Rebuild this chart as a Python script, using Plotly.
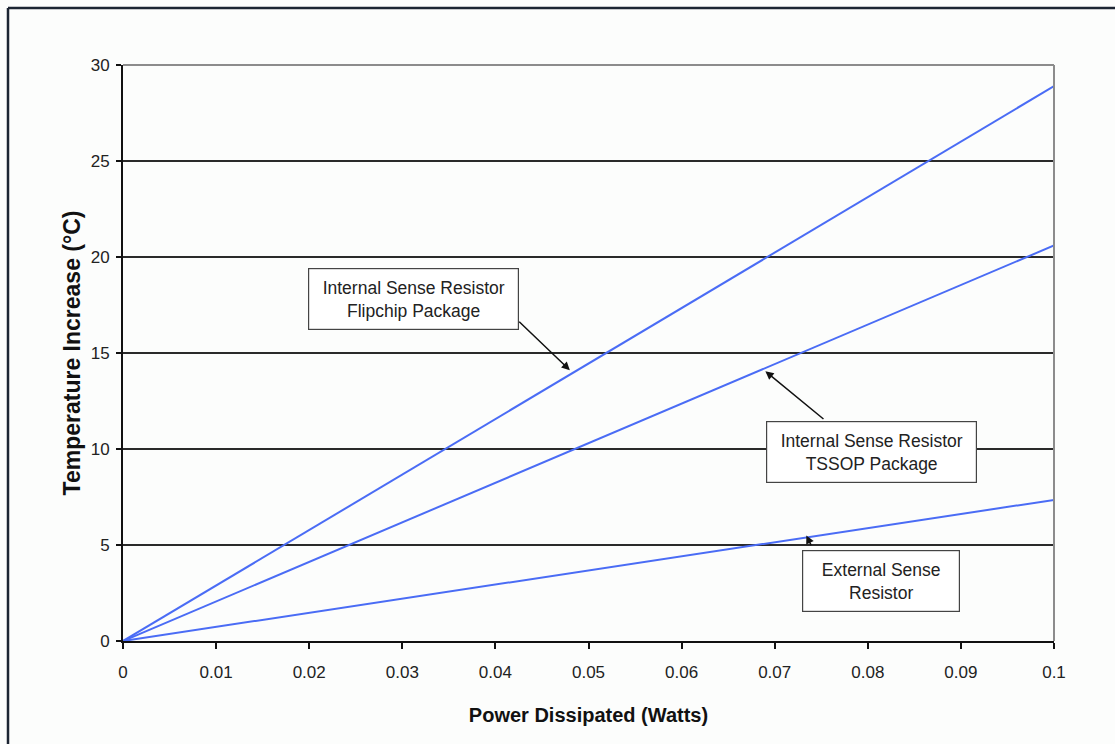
import plotly.graph_objects as go

# Data (linear temperature rise vs power)
power_w = [0.0, 0.1]
flipchip_c = [0.0, 28.9]
tssop_c = [0.0, 20.6]
external_c = [0.0, 7.35]

x_ticks = [0, 0.01, 0.02, 0.03, 0.04, 0.05, 0.06, 0.07, 0.08, 0.09, 0.1]
x_tick_text = ["0", "0.01", "0.02", "0.03", "0.04", "0.05", "0.06", "0.07", "0.08", "0.09", "0.1"]
y_ticks = [0, 5, 10, 15, 20, 25, 30]

label_texts = [
    "Internal Sense Resistor<br>Flipchip Package",
    "Internal Sense Resistor<br>TSSOP Package",
    "External Sense<br>Resistor",
]
label_pos = [(0.03115, 17.8), (0.0804, 9.85), (0.0814, 3.15)]
label_w = [205, 205, 152]
arrow_head = [(0.0480, 14.1), (0.0690, 14.05), (0.0734, 5.5)]
arrow_tail = [(0.0424, 16.7), (0.0754, 11.5), (0.0740, 4.9)]

line_color = "#4a6cf5"
font_main = "Liberation Sans, Arial, sans-serif"

fig = go.Figure()
for ys in (flipchip_c, tssop_c, external_c):
    fig.add_trace(go.Scatter(x=power_w, y=ys, mode="lines",
                             line=dict(color=line_color, width=2),
                             showlegend=False, hoverinfo="skip"))

annotations = []
for (hx, hy), (tx, ty) in zip(arrow_head, arrow_tail):
    annotations.append(dict(x=hx, y=hy, ax=tx, ay=ty, xref="x", yref="y",
                            axref="x", ayref="y", text="", showarrow=True,
                            arrowhead=2, arrowsize=1.1, arrowwidth=1.5,
                            arrowcolor="#111111", standoff=0, startstandoff=0))
for txt, (bx, by), w in zip(label_texts, label_pos, label_w):
    annotations.append(dict(x=bx, y=by, xref="x", yref="y", text=txt,
                            showarrow=False, width=w, height=56, align="center",
                            valign="middle", bgcolor="#ffffff",
                            bordercolor="#444444", borderwidth=1.2, borderpad=2,
                            font=dict(family=font_main, size=17.5, color="#222222")))

# paper-coordinate helpers for outer frame
L, R, T, B = 123, 61, 65, 103
W, H = 1115, 744
pw, ph = W - L - R, H - T - B
def px(xp):
    return (xp - L) / pw
def py(yp):
    return (H - B - yp) / ph

shapes = [
    # plot area top & right border (gray)
    dict(type="line", xref="paper", yref="paper", x0=0, x1=1, y0=1, y1=1,
         line=dict(color="#8c8c8c", width=2)),
    dict(type="line", xref="paper", yref="paper", x0=1, x1=1, y0=0, y1=1,
         line=dict(color="#8c8c8c", width=2)),
    # outer frame of the picture
    dict(type="line", xref="paper", yref="paper", x0=px(8), x1=px(1120), y0=py(8), y1=py(8),
         line=dict(color="#1c2533", width=2.5)),
    dict(type="line", xref="paper", yref="paper", x0=px(8), x1=px(8), y0=py(8), y1=py(750),
         line=dict(color="#1c2533", width=2.5)),
]

fig.update_layout(
    width=W, height=H,
    margin=dict(l=L, r=R, t=T, b=B, autoexpand=False),
    paper_bgcolor="#fcfdfc", plot_bgcolor="#fcfdfc",
    showlegend=False,
    annotations=annotations,
    shapes=shapes,
    font=dict(family=font_main, color="#222222"),
    xaxis=dict(range=[0, 0.1], tickmode="array", tickvals=x_ticks, ticktext=x_tick_text,
               showgrid=False, zeroline=False, showline=True, linecolor="#111111", linewidth=2,
               ticks="outside", ticklen=6, tickwidth=2, tickcolor="#111111",
               ticklabelstandoff=9,
               tickfont=dict(family=font_main, size=17, color="#222222"),
               title=dict(text="Power Dissipated (Watts)", standoff=27,
                          font=dict(family=font_main, size=20, color="#111111", weight="bold")),
               automargin=False),
    yaxis=dict(range=[0, 30], tickmode="array", tickvals=y_ticks,
               showgrid=True, gridcolor="#2a2a2a", gridwidth=1.5, zeroline=False,
               showline=True, linecolor="#111111", linewidth=2,
               ticks="outside", ticklen=5, tickwidth=2, tickcolor="#111111",
               ticklabelstandoff=3,
               tickfont=dict(family=font_main, size=17, color="#222222"),
               title=dict(text="Temperature Increase (°C)", standoff=4,
                          font=dict(family=font_main, size=23, color="#111111", weight="bold")),
               automargin=False),
)

fig.write_html("out.html",
               config={"displayModeBar": False, "staticPlot": True},
               post_script="document.body.style.margin='0';document.body.style.overflow='hidden';")
